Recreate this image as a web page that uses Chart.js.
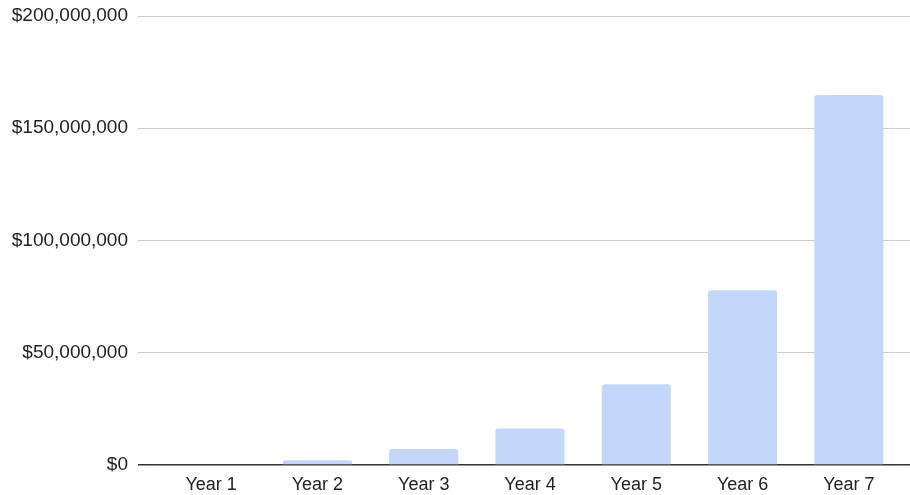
<!DOCTYPE html>
<html>
<head>
<meta charset="utf-8">
<script src="https://cdn.jsdelivr.net/npm/chart.js@4/dist/chart.umd.min.js"></script>
<style>
  html, body { margin: 0; padding: 0; background: #ffffff; }
  #wrap { width: 910px; height: 495px; }
</style>
</head>
<body>
<div id="wrap"><canvas id="c" width="910" height="495"></canvas></div>
<script>
const categories = ["Year 1", "Year 2", "Year 3", "Year 4", "Year 5", "Year 6", "Year 7"];
const revenue = [0, 2100000, 7100000, 16300000, 36000000, 77800000, 164800000];
const yTicks = [0, 50000000, 100000000, 150000000, 200000000];

const fmt = v => "$" + Math.round(v).toLocaleString("en-US");
const gridColor = ctx => (ctx.tick && ctx.tick.value === 0) ? "#333333" : "#cccccc";
const gridWidth = ctx => (ctx.tick && ctx.tick.value === 0) ? 1.5 : 1;

new Chart(document.getElementById("c"), {
  type: "bar",
  data: {
    labels: categories,
    datasets: [{
      data: revenue,
      backgroundColor: "#c3d7fb",
      borderWidth: 0,
      borderRadius: { topLeft: 3, topRight: 3, bottomLeft: 0, bottomRight: 0 },
      borderSkipped: "start",
      categoryPercentage: 1,
      barPercentage: 0.65
    }]
  },
  options: {
    responsive: false,
    animation: false,
    layout: { padding: { top: 16, right: 0, bottom: 0, left: 0 } },
    plugins: { legend: { display: false }, tooltip: { enabled: false } },
    scales: {
      x: {
        grid: { display: false },
        border: { display: false },
        ticks: {
          color: "#222222",
          font: { family: "Liberation Sans, Arial, sans-serif", size: 18 },
          padding: 1,
          maxRotation: 0
        },
        afterFit: s => { s.height = 30; }
      },
      y: {
        position: "left",
        min: 0,
        max: 200000000,
        afterBuildTicks: s => { s.ticks = yTicks.map(v => ({ value: v })); },
        grid: { color: gridColor, lineWidth: gridWidth, drawTicks: true, tickLength: 20 },
        border: { display: false },
        ticks: {
          color: "#222222",
          font: { family: "Liberation Sans, Arial, sans-serif", size: 19 },
          padding: 10,
          callback: v => fmt(v)
        },
        afterFit: s => { s.width = 158; s.paddingTop = 0; s.paddingBottom = 0; }
      },
      yr: {
        position: "right",
        min: 0,
        max: 200000000,
        afterBuildTicks: s => { s.ticks = yTicks.map(v => ({ value: v })); },
        grid: { color: gridColor, lineWidth: gridWidth, drawOnChartArea: false, drawTicks: true, tickLength: 8 },
        border: { display: false },
        ticks: { display: false },
        afterFit: s => { s.width = 8; s.paddingTop = 0; s.paddingBottom = 0; }
      }
    }
  }
});
</script>
</body>
</html>
